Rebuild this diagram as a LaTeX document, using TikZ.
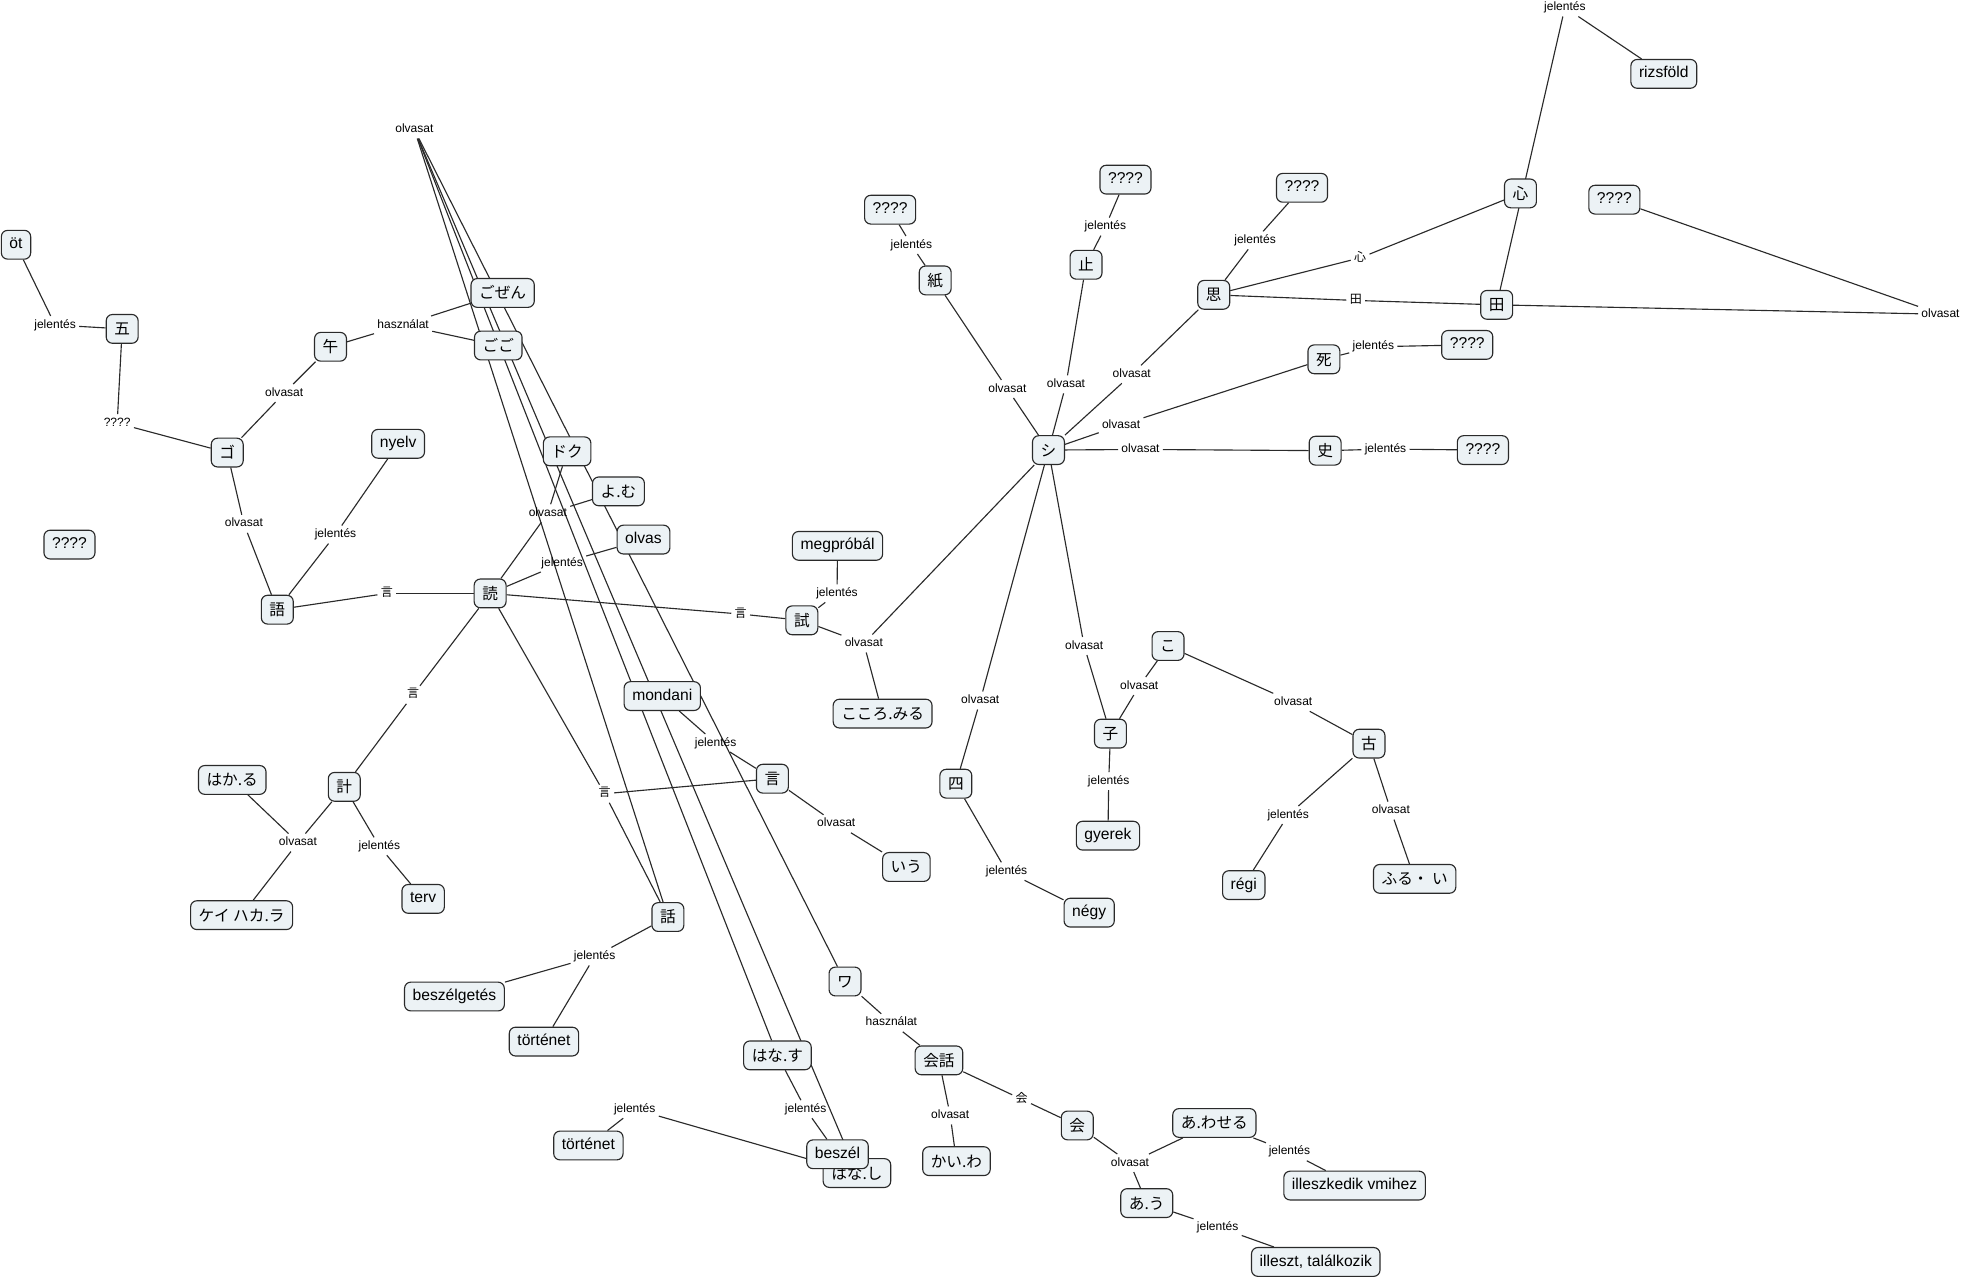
\documentclass[tikz,border=0pt]{standalone}
\usepackage{fontspec}
\setmainfont{Liberation Sans}
\newfontfamily\jpfont{Noto Sans CJK JP}
\pgfdeclarelayer{bg}
\pgfsetlayers{bg,main}
\definecolor{cfill}{HTML}{ECF2F5}
\definecolor{cline}{HTML}{2A2A2A}
\tikzset{
  concept/.style={draw=cline, fill=cfill, rounded corners=5pt, line width=0.9pt,
    font=\fontsize{12.5}{14}\selectfont, inner xsep=6.5pt, inner ysep=5pt,
    text height=9.5pt, text depth=3pt, minimum height=23pt},
  jp/.style={font=\jpfont\fontsize{12.5}{14}\selectfont, text height=11pt, text depth=1.5pt},
  link/.style={font=\fontsize{9.6}{11}\selectfont, inner sep=2.5pt, text height=7pt, text depth=2pt},
  jlink/.style={link, font=\jpfont\fontsize{9.6}{11}\selectfont},
  edge/.style={draw=cline, line width=0.9pt}
}
\begin{document}
\begin{tikzpicture}[x=1pt,y=-1pt]
\begin{pgfonlayer}{bg}
\fill[white] (0,0) rectangle (1568,1021.6);
\end{pgfonlayer}
\useasboundingbox (0,0) rectangle (1568,1021.6);
% concepts
\node[concept] (ot) at (12.8,195.5) {öt};
\node[concept,jp] (go5) at (97.6,262.7) {五};
\node[concept,jp] (uma) at (264,277) {午};
\node[concept,jp] (goK) at (181.5,361.5) {ゴ};
\node[concept,jp] (gozen) at (401.5,234) {ごぜん};
\node[concept,jp] (gogo) at (398,276) {ごご};
\node[concept] (nyelv) at (318,354.5) {nyelv};
\node[concept] (qL) at (55.5,435) {????};
\node[concept,jp] (go) at (221.5,487) {語};
\node[concept,jp] (doku) at (391.5,474) {読};
\node[concept,jp] (dokuK) at (453,360.5) {ドク};
\node[concept,jp] (yomu) at (494,392.5) {よ.む};
\node[concept] (olvas) at (514,431) {olvas};
\node[concept] (megp) at (669,436) {megpróbál};
\node[concept,jp] (tame) at (640.5,495.5) {試};
\node[concept,jp] (kokoromiru) at (705,570) {こころ.みる};
\node[concept,jp] (hakaru) at (185.5,623) {はか.る};
\node[concept,jp] (kei) at (275,628.5) {計};
\node[concept,jp] (keihakara) at (193,731) {ケイ ハカ.ラ};
\node[concept] (terv) at (338,718) {terv};
\node[concept] (beszelgetes) at (363,796) {beszélgetés};
\node[concept] (tortenetA) at (434.5,832) {történet};
\node[concept,jp] (hanaK) at (533.5,732.5) {話};
\node[concept] (mondani) at (529,556) {mondani};
\node[concept,jp] (iu) at (617,622) {言};
\node[concept,jp] (iuR) at (724,692.5) {いう};
\node[concept,jp] (wa) at (675,784) {ワ};
\node[concept,jp] (kaiwa) at (750,847) {会話};
\node[concept,jp] (hanasu) at (621,843) {はな.す};
\node[concept,jp] (hanashi) at (684.5,937) {はな.し};
\node[concept] (beszel) at (669,922) {beszél};
\node[concept] (tortenetB) at (470,915) {történet};
\node[concept,jp] (kaiwaR) at (764,927.5) {かい.わ};
\node[concept,jp] (kai) at (860.5,899) {会};
\node[concept,jp] (awaseru) at (970,897) {あ.わせる};
\node[concept,jp] (au) at (916,961) {あ.う};
\node[concept] (illeszkedik) at (1082,947) {illeszkedik vmihez};
\node[concept] (illeszt) at (1051,1008) {illeszt, találkozik};
\node[concept,jp] (shiK) at (837.5,359.5) {シ};
\node[concept,jp] (kami) at (747,224) {紙};
\node[concept] (qKami) at (711,167.5) {????};
\node[concept,jp] (tome) at (867.5,211.5) {止};
\node[concept] (qTome) at (899,143.5) {????};
\node[concept,jp] (omo) at (969.5,235.5) {思};
\node[concept] (qOmo) at (1040,150) {????};
\node[concept,jp] (kokoro) at (1214.5,154.5) {心};
\node[concept,jp] (ta) at (1195.5,243.5) {田};
\node[concept] (rizs) at (1329,59) {rizsföld};
\node[concept] (qTa) at (1289.5,159.5) {????};
\node[concept,jp] (shi) at (1057.5,287) {死};
\node[concept] (qShi) at (1172,275.5) {????};
\node[concept,jp] (shiH) at (1058.5,360) {史};
\node[concept] (qShiH) at (1184.5,359.5) {????};
\node[concept,jp] (yon) at (763.5,626) {四};
\node[concept] (negy) at (870,729) {négy};
\node[concept,jp] (ko) at (933,516) {こ};
\node[concept,jp] (ko2) at (887,586) {子};
\node[concept] (gyerek) at (885,667.5) {gyerek};
\node[concept,jp] (furu) at (1093.5,594) {古};
\node[concept] (regi) at (993.5,707) {régi};
\node[concept,jp] (furui) at (1130,702) {ふる・ い};
% linking phrases
\node[link] (l1) at (44,259.6) {jelentés};
\node[link] (l2) at (93.6,338) {????};
\node[link] (l3) at (227,314) {olvasat};
\node[link] (l4) at (322,259.6) {használat};
\node[link] (l5) at (194.8,418.4) {olvasat};
\node[link] (l6) at (268,427) {jelentés};
\node[jlink] (l7) at (309,474) {言};
\node[link] (l8) at (437.6,410) {olvasat};
\node[link] (l9) at (449,449.7) {jelentés};
\node[jlink] (l10) at (591.6,490.5) {言};
\node[link] (l11) at (668.6,474) {jelentés};
\node[link] (l12) at (690,514) {olvasat};
\node[jlink] (l13) at (330,555) {言};
\node[link] (l14) at (238,673) {olvasat};
\node[link] (l15) at (303,676) {jelentés};
\node[jlink] (l16) at (483,634) {言};
\node[link] (l17) at (475,764) {jelentés};
\node[link] (l18) at (331,103.5) {olvasat};
\node[link] (l19) at (571.6,593.5) {jelentés};
\node[link] (l20) at (668,658) {olvasat};
\node[link] (l21) at (712,817) {használat};
\node[link] (l22) at (759,891) {olvasat};
\node[jlink] (l23) at (816,878) {会};
\node[link] (l24) at (902.6,929) {olvasat};
\node[link] (l25) at (1030,920) {jelentés};
\node[link] (l26) at (972.6,980) {jelentés};
\node[link] (l27) at (643.5,886) {jelentés};
\node[link] (l28) at (507,886) {jelentés};
\node[link] (l29) at (728,195.7) {jelentés};
\node[link] (l30) at (804.7,310.7) {olvasat};
\node[link] (l31) at (883,181) {jelentés};
\node[link] (l32) at (851.5,307) {olvasat};
\node[link] (l33) at (1002.5,192) {jelentés};
\node[link] (l34) at (904,299) {olvasat};
\node[jlink] (l35) at (1086.4,206) {心};
\node[jlink] (l36) at (1083,240) {田};
\node[link] (l37) at (1250,6) {jelentés};
\node[link] (l38) at (1550,251) {olvasat};
\node[link] (l39) at (1097,277) {jelentés};
\node[link] (l40) at (895.5,339.5) {olvasat};
\node[link] (l41) at (911,359) {olvasat};
\node[link] (l42) at (1106.7,358.7) {jelentés};
\node[link] (l43) at (783,559.5) {olvasat};
\node[link] (l44) at (804,696) {jelentés};
\node[link] (l45) at (866,516) {olvasat};
\node[link] (l46) at (885.6,624) {jelentés};
\node[link] (l47) at (910,548) {olvasat};
\node[link] (l48) at (1033,561) {olvasat};
\node[link] (l49) at (1029,651) {jelentés};
\node[link] (l50) at (1111,647.5) {olvasat};
% connectors
\begin{pgfonlayer}{bg}
\foreach \a/\b in {l1/ot, l1/go5, l2/go5, l2/goK, l3/goK, l3/uma, l4/uma, l4/gozen, l4/gogo,
  l5/goK, l5/go, l6/go, l6/nyelv, l7/go, l7/doku, l8/doku, l8/dokuK, l8/yomu, l9/doku, l9/olvas,
  l10/doku, l10/tame, l11/tame, l11/megp, l12/tame, l12/kokoromiru, l12/shiK, l13/doku, l13/kei,
  l14/kei, l14/hakaru, l14/keihakara, l15/kei, l15/terv, l16/doku, l16/iu, l16/hanaK,
  l17/hanaK, l17/beszelgetes, l17/tortenetA, l18/hanaK, l18/wa, l18/hanasu, l18/hanashi,
  l19/iu, l19/mondani, l20/iu, l20/iuR, l21/wa, l21/kaiwa, l22/kaiwa, l22/kaiwaR, l23/kaiwa, l23/kai,
  l24/kai, l24/awaseru, l24/au, l25/awaseru, l25/illeszkedik, l26/au, l26/illeszt,
  l27/hanasu, l27/beszel, l28/hanashi, l28/tortenetB, l29/kami, l29/qKami, l30/kami, l30/shiK,
  l31/tome, l31/qTome, l32/tome, l32/shiK, l33/omo, l33/qOmo, l34/omo, l34/shiK,
  l35/omo, l35/kokoro, l36/omo, l36/ta, l37/ta, l37/rizs, l38/ta, l38/qTa,
  l39/shi, l39/qShi, l40/shi, l40/shiK, l41/shiH, l41/shiK, l42/shiH, l42/qShiH,
  l43/shiK, l43/yon, l44/yon, l44/negy, l45/shiK, l45/ko2, l46/ko2, l46/gyerek,
  l47/ko2, l47/ko, l48/ko, l48/furu, l49/furu, l49/regi, l50/furu, l50/furui}
  \draw[edge] (\a) -- (\b);
\end{pgfonlayer}
\end{tikzpicture}
\end{document}
